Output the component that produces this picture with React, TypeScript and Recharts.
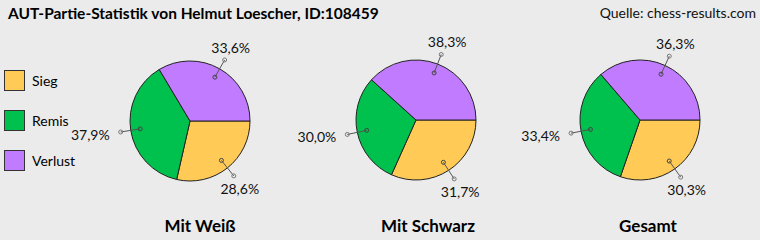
import React from 'react';
import { PieChart, Pie, Cell } from 'recharts';

const categories = ['Sieg', 'Remis', 'Verlust'];
const colors = ['#FFCA55', '#00C04E', '#C07BFF'];
const groups = ['Mit Weiß', 'Mit Schwarz', 'Gesamt'];
const mitWeiss = [28.6, 37.9, 33.6];
const mitSchwarz = [31.7, 30.0, 38.3];
const gesamt = [30.3, 33.4, 36.3];

const title = 'AUT-Partie-Statistik von Helmut Loescher, ID:108459';
const source = 'Quelle: chess-results.com';

const FONT = 'Lato, sans-serif';
const RAD = Math.PI / 180;

const toData = (vals: number[]) => vals.map((v, i) => ({ name: categories[i], value: v }));

const pies = [
  { data: toData(mitWeiss), cx: 190, cy: 121, captionX: 200 },
  { data: toData(mitSchwarz), cx: 416, cy: 120, captionX: 428 },
  { data: toData(gesamt), cx: 640, cy: 120, captionX: 648 },
];

const fmt = (v: number) => v.toFixed(1).replace('.', ',') + '%';

const renderLabel = (props: any) => {
  const { cx, cy, midAngle, outerRadius, value } = props;
  const c = Math.cos(-midAngle * RAD);
  const s = Math.sin(-midAngle * RAD);
  const ix = cx + outerRadius * 0.84 * c;
  const iy = cy + outerRadius * 0.84 * s;
  const ox = cx + outerRadius * 1.17 * c;
  const oy = cy + outerRadius * 1.17 * s;
  let tx = ox + 6;
  let ty = oy + (s < 0 ? -12 : 13);
  let anchor: 'start' | 'middle' | 'end' = 'middle';
  if (Math.abs(c) > 0.9) {
    anchor = c < 0 ? 'end' : 'start';
    tx = ox + (c < 0 ? -11 : 11);
    ty = oy + 3;
  }
  return (
    <g>
      <line x1={ix} y1={iy} x2={ox} y2={oy} stroke="#555" strokeWidth={1} />
      <circle cx={ix} cy={iy} r={2} fill="none" stroke="#444" strokeWidth={1} />
      <circle cx={ox} cy={oy} r={2} fill="none" stroke="#777" strokeWidth={1} />
      <text x={tx} y={ty} dy="0.35em" textAnchor={anchor} fontFamily={FONT} fontSize={14} fill="#111">
        {fmt(value)}
      </text>
    </g>
  );
};

export default function App() {
  return (
    <div style={{ position: 'absolute', left: 0, top: 0, width: 760, height: 240, background: '#ebebeb', overflow: 'hidden' }}>
      <PieChart width={760} height={240} margin={{ top: 0, right: 0, bottom: 0, left: 0 }}>
        {pies.map((p, k) => (
          <Pie
            key={k}
            data={p.data}
            dataKey="value"
            nameKey="name"
            cx={p.cx}
            cy={p.cy}
            outerRadius={60}
            startAngle={0}
            endAngle={-360}
            stroke="#222"
            strokeWidth={1}
            label={renderLabel}
            labelLine={false}
            isAnimationActive={false}
          >
            {p.data.map((d, i) => (
              <Cell key={i} fill={colors[i]} />
            ))}
          </Pie>
        ))}
      </PieChart>
      <svg width={760} height={240} style={{ position: 'absolute', left: 0, top: 0, pointerEvents: 'none' }}>
        <text x={8} y={19} fontFamily={FONT} fontWeight="bold" fontSize={15.5} fill="#000">{title}</text>
        <text x={756} y={18} textAnchor="end" fontFamily={FONT} fontSize={14} fill="#111">{source}</text>
        {categories.map((c, i) => (
          <g key={c}>
            <rect x={4.5} y={70.5 + i * 40} width={20} height={20} fill={colors[i]} stroke="#333" strokeWidth={1} />
            <text x={32} y={86 + i * 40} fontFamily={FONT} fontSize={14} fill="#000">{c}</text>
          </g>
        ))}
        {groups.map((g, i) => (
          <text key={g} x={pies[i].captionX} y={232} textAnchor="middle" fontFamily={FONT} fontWeight="bold" fontSize={17} fill="#000">{g}</text>
        ))}
      </svg>
    </div>
  );
}
